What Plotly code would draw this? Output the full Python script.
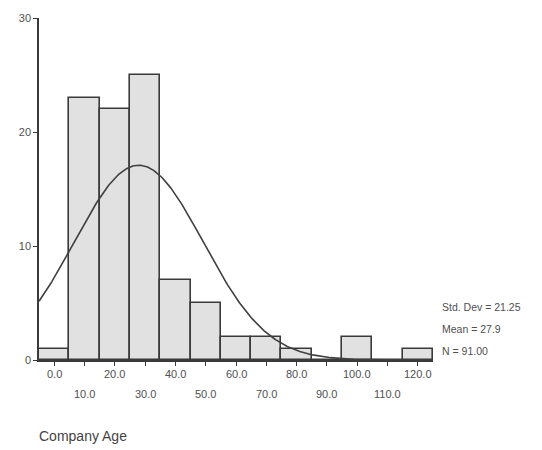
import numpy as np
import plotly.graph_objects as go

# Histogram of company age (bin centres, width 10)
bin_centers = [0, 10, 20, 30, 40, 50, 60, 70, 80, 90, 100, 110, 120]
counts = [1, 23, 22, 25, 7, 5, 2, 2, 1, 0, 2, 0, 1]
bin_width = 10

# Summary statistics shown beside the chart
std_dev = 21.25
mean_age = 27.9
n_cases = 91

tick_labels = ["0.0", "10.0", "20.0", "30.0", "40.0", "50.0", "60.0",
               "70.0", "80.0", "90.0", "100.0", "110.0", "120.0"]
y_ticks = [0, 10, 20, 30]

FONT = "Liberation Sans, Arial, sans-serif"
TXT = "#505050"
LINE = "#3a3a3a"

# plot area in pixels (top / bottom of the y axis)
plot_top, plot_bottom = 15, 360


def paper_y(px):
    return (plot_bottom - px) / (plot_bottom - plot_top)


fig = go.Figure()

fig.add_trace(go.Bar(
    x=bin_centers, y=counts, width=bin_width,
    marker=dict(color="#e1e1e1", line=dict(color=LINE, width=1.6)),
    hoverinfo="x+y", showlegend=False,
))

# Fitted normal curve scaled to counts
xs = np.linspace(-5, 125, 400)
ys = n_cases * bin_width / (std_dev * np.sqrt(2 * np.pi)) * np.exp(-0.5 * ((xs - mean_age) / std_dev) ** 2)
fig.add_trace(go.Scatter(
    x=xs, y=ys, mode="lines",
    line=dict(color="#404040", width=1.6),
    hoverinfo="skip", showlegend=False,
))

annotations = []
# Staggered x tick labels: even bins on the first row, odd bins on the second
for i, (xc, lab) in enumerate(zip(bin_centers, tick_labels)):
    annotations.append(dict(
        x=xc, xref="x", y=paper_y(374 if i % 2 == 0 else 394), yref="paper",
        text=lab, showarrow=False,
        font=dict(family=FONT, size=11, color=TXT),
        xanchor="center", yanchor="middle",
    ))

stats = [f"Std. Dev = {std_dev:.2f}", f"Mean = {mean_age}", f"N = {n_cases:.2f}"]
for j, s in enumerate(stats):
    annotations.append(dict(
        x=1.017, xref="paper", y=paper_y(307 + 22 * j), yref="paper",
        text=s, showarrow=False, xanchor="left", yanchor="middle",
        font=dict(family=FONT, size=10.5, color=TXT),
    ))

annotations.append(dict(
    x=-0.005, xref="paper", y=paper_y(437), yref="paper",
    text="Company Age", showarrow=False, xanchor="left", yanchor="middle",
    font=dict(family=FONT, size=14, color="#444444"),
))

fig.update_layout(
    width=542, height=450,
    margin=dict(l=39, r=109, t=15, b=90),
    paper_bgcolor="white", plot_bgcolor="white",
    bargap=0,
    annotations=annotations,
    font=dict(family=FONT, color=TXT),
    xaxis=dict(
        range=[-5, 125], showgrid=False, zeroline=False,
        showline=True, linecolor=LINE, linewidth=1.5,
        tickvals=bin_centers, ticktext=[""] * len(bin_centers),
        ticks="outside", ticklen=4, tickcolor=LINE, tickwidth=1.2,
        fixedrange=True,
    ),
    yaxis=dict(
        range=[0, 30], showgrid=False, zeroline=False,
        showline=True, linecolor=LINE, linewidth=1.5,
        tickvals=y_ticks, ticks="outside", ticklen=4, tickcolor=LINE, tickwidth=1.2,
        tickfont=dict(family=FONT, size=11, color=TXT),
        fixedrange=True,
    ),
)

fig.write_html("out.html")
